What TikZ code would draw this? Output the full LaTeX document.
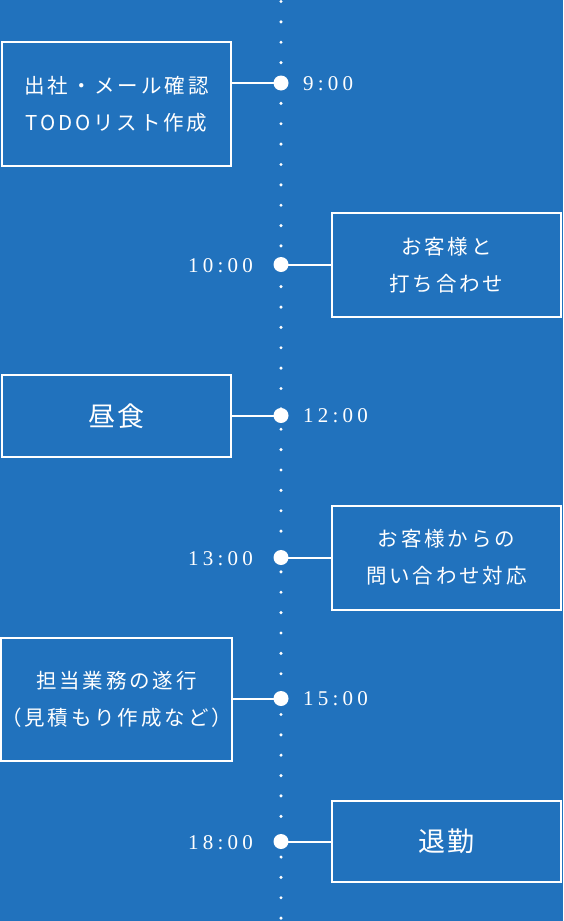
\documentclass[tikz,border=0pt]{standalone}
\usepackage{fontspec}
\newfontfamily\jp{Noto Sans CJK JP}[LetterSpace=14]
\newfontfamily\jpb{Noto Sans CJK JP}[LetterSpace=10]
\newfontfamily\tm{Liberation Serif}[LetterSpace=20]
\definecolor{bg}{HTML}{2172BD}
\tikzset{
  tbox/.style={draw=white, line width=2pt, text=white, inner sep=0pt, align=center,
     minimum width=229pt, font=\jp\fontsize{20.5}{37}\selectfont},
  tbig/.style={font=\jpb\fontsize{27}{30}\selectfont},
  tdot/.style={circle, fill=white, inner sep=0pt, minimum size=15pt},
  tlink/.style={draw=white, line width=2pt},
  ttime/.style={text=white, inner sep=0pt, font=\tm\fontsize{21}{21}\selectfont},
}
\begin{document}
\begin{tikzpicture}[x=1pt,y=-1pt]
\fill[bg] (0,0) rectangle (563,921);
\useasboundingbox (0,0) rectangle (563,921);
% dotted axis
\foreach \i in {0,...,45} {
  \fill[white] (281,1.5+20.37*\i) circle (1.7);
}
% boxes
\node[tbox, minimum height=124pt] (b1) at (116.5,104) {出社・メール確認\\TODOリスト作成};
\node[tbox, minimum height=104pt] (b2) at (446.5,265) {お客様と\\打ち合わせ};
\node[tbox, tbig, minimum height=82pt] (b3) at (116.5,416) {昼食};
\node[tbox, minimum height=104pt] (b4) at (446.5,557.5) {お客様からの\\問い合わせ対応};
\node[tbox, minimum height=123pt] (b5) at (116.5,699.5) {担当業務の遂行\\（見積もり作成など）};
\node[tbox, tbig, minimum height=81pt] (b6) at (446.5,841) {退勤};
% dots on axis
\node[tdot] (d1) at (281,83) {};
\node[tdot] (d2) at (281,264.5) {};
\node[tdot] (d3) at (281,415.5) {};
\node[tdot] (d4) at (281,557.5) {};
\node[tdot] (d5) at (281,698.5) {};
\node[tdot] (d6) at (281,841.5) {};
% connectors
\draw[tlink] (b1.east |- d1) -- (d1.center);
\draw[tlink] (b2.west |- d2) -- (d2.center);
\draw[tlink] (b3.east |- d3) -- (d3.center);
\draw[tlink] (b4.west |- d4) -- (d4.center);
\draw[tlink] (b5.east |- d5) -- (d5.center);
\draw[tlink] (b6.west |- d6) -- (d6.center);
% times
\node[ttime, anchor=west] (t1) at (303,83.5) {9:00};
\node[ttime, anchor=east] (t2) at (253,266) {10:00};
\node[ttime, anchor=west] (t3) at (303,416) {12:00};
\node[ttime, anchor=east] (t4) at (253,558.5) {13:00};
\node[ttime, anchor=west] (t5) at (303,699) {15:00};
\node[ttime, anchor=east] (t6) at (253,842.5) {18:00};
\end{tikzpicture}
\end{document}
